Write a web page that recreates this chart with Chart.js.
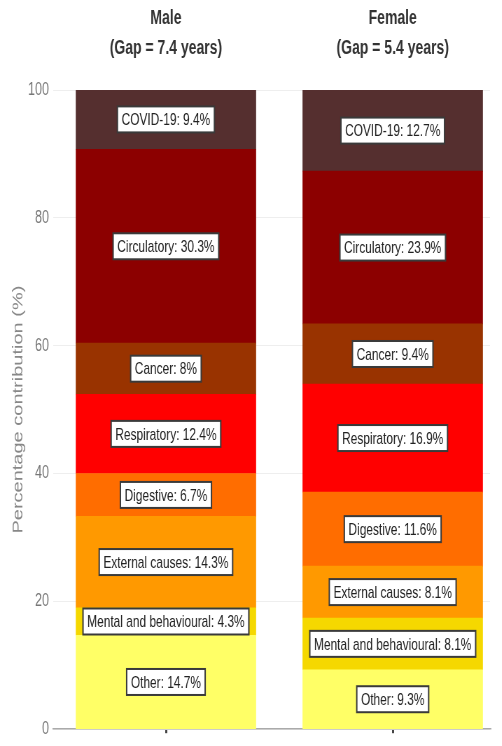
<!DOCTYPE html>
<html>
<head>
<meta charset="utf-8">
<script src="https://cdn.jsdelivr.net/npm/chart.js@4"></script>
<style>
  html, body { margin: 0; padding: 0; background: #fff; overflow: hidden; }
  /* the source picture is squeezed sideways, so the whole chart is too */
  #wrap { width: 717px; height: 746px; transform: scaleX(0.7); transform-origin: 0 0; }
</style>
</head>
<body>
<div id="wrap"><canvas id="chart" width="717" height="746"></canvas></div>
<script>
const groups = ['Male', 'Female'];
const gaps = ['(Gap = 7.4 years)', '(Gap = 5.4 years)'];
const causes = ['Other', 'Mental and behavioural', 'External causes', 'Digestive',
                'Respiratory', 'Cancer', 'Circulatory', 'COVID-19'];
const maleValues = [14.7, 4.3, 14.3, 6.7, 12.4, 8, 30.3, 9.4];
const femaleValues = [9.3, 8.1, 8.1, 11.6, 16.9, 9.4, 23.9, 12.7];
const colours = ['#FFFF66', '#F5D800', '#FF9900', '#FF6D00',
                 '#FF0000', '#993300', '#8C0000', '#552F2F'];
const yTicks = [0, 20, 40, 60, 80, 100];

// Boxed labels in each segment and the two panel titles
const segmentLabels = {
    id: 'segmentLabels',
    afterDatasetsDraw(chart) {
        const ctx = chart.ctx;
        ctx.save();
        ctx.textAlign = 'center';
        ctx.textBaseline = 'middle';
        ctx.font = '17px "Liberation Sans", Arial, sans-serif';
        chart.data.datasets.forEach((ds, i) => {
            chart.getDatasetMeta(i).data.forEach((bar, j) => {
                const cy = (bar.y + bar.base) / 2;
                const text = ds.label + ': ' + ds.data[j].y + '%';
                const w = ctx.measureText(text).width + 12;
                const h = 26;
                ctx.fillStyle = '#fff';
                ctx.fillRect(bar.x - w / 2, cy - h / 2, w, h);
                ctx.lineWidth = 2;
                ctx.strokeStyle = '#3a3a3a';
                ctx.strokeRect(bar.x - w / 2, cy - h / 2, w, h);
                ctx.fillStyle = '#222';
                ctx.fillText(text, bar.x, cy + 1);
            });
        });

        const x = chart.scales.x;
        ctx.font = 'bold 20px "Liberation Sans", Arial, sans-serif';
        ctx.fillStyle = '#333';
        groups.forEach((g, j) => {
            const px = x.getPixelForValue(j);
            ctx.fillText(g, px, 18);
            ctx.fillText(gaps[j], px, 48);
        });
        ctx.restore();
    }
};

const datasets = causes.map((c, i) => ({
    label: c,
    data: [{ x: 0, y: maleValues[i] }, { x: 1, y: femaleValues[i] }],
    backgroundColor: colours[i],
    borderWidth: 0,
    barThickness: 257
}));

new Chart(document.getElementById('chart'), {
    type: 'bar',
    data: { datasets: datasets },
    options: {
        responsive: false,
        animation: false,
        layout: { padding: { top: 90, right: 17, bottom: 0, left: 0 } },
        plugins: {
            legend: { display: false },
            tooltip: { enabled: false }
        },
        scales: {
            x: {
                type: 'linear',
                stacked: true,
                offset: false,
                min: -0.497,
                max: 1.429,
                afterBuildTicks: (scale) => {
                    scale.ticks = groups.map((g, j) => ({ value: j }));
                },
                afterFit: (scale) => { scale.height = 8; },
                ticks: { display: false },
                grid: { offset: false, drawOnChartArea: false, tickLength: 4, color: '#444', lineWidth: 3 },
                border: { color: '#aaa', width: 1.5 }
            },
            y: {
                stacked: true,
                min: 0,
                max: 100,
                afterBuildTicks: (scale) => {
                    scale.ticks = yTicks.map(v => ({ value: v }));
                },
                afterFit: (scale) => { scale.width = 76; },
                ticks: {
                    color: '#777',
                    padding: 6,
                    font: { family: '"Liberation Sans Narrow", "Liberation Sans", sans-serif', size: 18 }
                },
                grid: { color: '#eeeeee', drawTicks: false },
                border: { display: false },
                title: {
                    display: true,
                    text: 'Percentage contribution (%)',
                    color: '#888',
                    padding: { top: 14, bottom: 4 },
                    font: { family: '"Liberation Sans", Arial, sans-serif', size: 20 }
                }
            }
        }
    },
    plugins: [segmentLabels]
});
</script>
</body>
</html>
